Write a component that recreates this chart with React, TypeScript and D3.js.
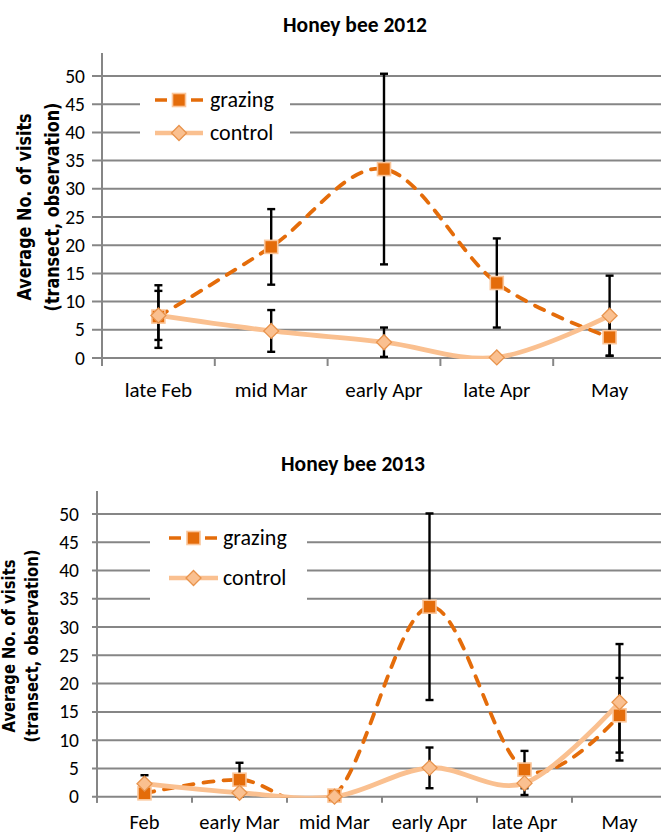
import React from 'react';
import * as d3 from 'd3';

// ---------- data ----------
const yTicks = [0, 5, 10, 15, 20, 25, 30, 35, 40, 45, 50];

const cats2012 = ['late Feb', 'mid Mar', 'early Apr', 'late Apr', 'May'];
const grazing2012 = [7.35, 19.7, 33.5, 13.3, 3.7];
const grazingErr2012 = [5.55, 6.7, 16.9, 7.9, 3.3];
const control2012 = [7.55, 4.8, 2.8, 0.1, 7.5];
const controlErr2012 = [4.35, 3.7, 2.6, 0, 7.1];

const cats2013 = ['Feb', 'early Mar', 'mid Mar', 'early Apr', 'late Apr', 'May'];
const grazing2013 = [0.6, 3.0, 0.2, 33.6, 4.8, 14.4];
const grazingErr2013 = [0, 3.0, 0, 16.5, 3.3, 6.6];
const control2013 = [2.3, 0.7, 0, 5.1, 2.4, 16.7];
const controlErr2013 = [1.5, 0, 0, 3.6, 2.1, 10.3];

const seriesNames = ['grazing', 'control'];
const yTitle = ['Average No. of visits', '(transect, observation)'];

// ---------- styles ----------
const FONT = "Carlito, Lato, 'Open Sans', sans-serif";
const YT_FONT = "'DejaVu Sans', Verdana, sans-serif";
const GRAZE = '#E46C0A';
const GRAZE_EDGE = '#FBC69A';
const CTRL = '#FAC090';
const CTRL_EDGE = '#E8934C';
const GRID = '#868686';

type Cfg = {
  id: string;
  title: string;
  cats: string[];
  g: number[]; ge: number[];
  c: number[]; ce: number[];
  x0: number; x1: number; yTop: number; y0: number; axisTop: number;
  titleX: number; titleY: number;
  labelRight: number; tickLeft: number; xTickLen: number; xLabelY: number; xLabelSize: number;
  ytCenter: number; yt1: number; yt2: number; ytSize: number; ytScale: number;
  legX: number; legY: number; legW: number; legH: number;
  legRow1: number; legRow2: number; legL0: number; legL1: number; legText: number;
};

function Square({ x, y }: { x: number; y: number }) {
  const s = 13;
  return <rect x={x - s / 2} y={y - s / 2} width={s} height={s} fill={GRAZE} stroke={GRAZE_EDGE} strokeWidth={1.6} />;
}
function Diamond({ x, y }: { x: number; y: number }) {
  const r = 7.5;
  return (
    <path d={`M${x},${y - r}L${x + r},${y}L${x},${y + r}L${x - r},${y}Z`} fill={CTRL} stroke={CTRL_EDGE} strokeWidth={1.3} />
  );
}

function Panel({ cfg }: { cfg: Cfg }) {
  const x = d3.scaleBand<string>().domain(cfg.cats).range([cfg.x0, cfg.x1]);
  const bw = x.bandwidth();
  const cx = (i: number) => (x(cfg.cats[i]) as number) + bw / 2;
  const y = d3.scaleLinear().domain([0, 50]).range([cfg.y0, cfg.yTop]);
  const line = d3
    .line<number>()
    .x((_, i) => cx(i))
    .y((d) => y(d))
    .curve(d3.curveCardinal.tension(0));
  const boundaries = cfg.cats.map((c) => x(c) as number).concat([cfg.x1]);

  const errBars = (vals: number[], errs: number[], key: string) =>
    vals.map((v, i) =>
      errs[i] > 0 ? (
        <g key={key + i} stroke="#000" strokeWidth={2.4}>
          <line x1={cx(i)} x2={cx(i)} y1={y(v + errs[i])} y2={y(Math.max(0, v - errs[i]))} />
          <line x1={cx(i) - 4} x2={cx(i) + 4} y1={y(v + errs[i])} y2={y(v + errs[i])} />
          <line x1={cx(i) - 4} x2={cx(i) + 4} y1={y(Math.max(0, v - errs[i]))} y2={y(Math.max(0, v - errs[i]))} />
        </g>
      ) : null
    );

  return (
    <g>
      <defs>
        <clipPath id={'clip' + cfg.id}>
          <rect x={cfg.x0} y={cfg.yTop - 30} width={cfg.x1 - cfg.x0} height={cfg.y0 - cfg.yTop + 31} />
        </clipPath>
      </defs>
      <text x={cfg.titleX} y={cfg.titleY} textAnchor="middle" fontFamily={FONT} fontWeight="bold" fontSize={21.5} fill="#000">
        {cfg.title}
      </text>
      {/* gridlines + y ticks */}
      {yTicks.map((t) => (
        <g key={t}>
          <line x1={cfg.tickLeft} x2={cfg.x1} y1={y(t)} y2={y(t)} stroke={GRID} strokeWidth={2} />
          <text x={cfg.labelRight} y={y(t) + 6.5} textAnchor="end" fontFamily={FONT} fontSize={19.5} fill="#000">
            {t}
          </text>
        </g>
      ))}
      {/* axes */}
      <line x1={cfg.x0} x2={cfg.x0} y1={cfg.axisTop} y2={cfg.y0 + cfg.xTickLen} stroke={GRID} strokeWidth={2} />
      {boundaries.map((b, i) => (
        <line key={i} x1={b} x2={b} y1={cfg.y0} y2={cfg.y0 + cfg.xTickLen} stroke={GRID} strokeWidth={2} />
      ))}
      {cfg.cats.map((c, i) => (
        <text key={c} x={cx(i)} y={cfg.xLabelY} textAnchor="middle" fontFamily={FONT} fontSize={cfg.xLabelSize} fill="#000">
          {c}
        </text>
      ))}
      {/* y title */}
      <g transform={`translate(${cfg.yt1},${cfg.ytCenter}) rotate(-90) scale(${cfg.ytScale},1)`}>
        <text textAnchor="middle" fontFamily={YT_FONT} fontWeight="bold" fontSize={cfg.ytSize} fill="#000">
          {yTitle[0]}
        </text>
      </g>
      <g transform={`translate(${cfg.yt2},${cfg.ytCenter}) rotate(-90) scale(${cfg.ytScale},1)`}>
        <text textAnchor="middle" fontFamily={YT_FONT} fontWeight="bold" fontSize={cfg.ytSize} fill="#000">
          {yTitle[1]}
        </text>
      </g>
      {/* legend */}
      <rect x={cfg.legX} y={cfg.legY} width={cfg.legW} height={cfg.legH} fill="#fff" />
      <line x1={cfg.legL0} x2={cfg.legL1} y1={cfg.legRow1} y2={cfg.legRow1} stroke={GRAZE} strokeWidth={3.5} strokeDasharray="12 6" />
      <Square x={(cfg.legL0 + cfg.legL1) / 2} y={cfg.legRow1} />
      <text x={cfg.legText} y={cfg.legRow1 + 6.5} fontFamily={FONT} fontSize={22} fill="#000">
        {seriesNames[0]}
      </text>
      <line x1={cfg.legL0} x2={cfg.legL1} y1={cfg.legRow2} y2={cfg.legRow2} stroke={CTRL} strokeWidth={4.5} />
      <Diamond x={(cfg.legL0 + cfg.legL1) / 2} y={cfg.legRow2} />
      <text x={cfg.legText} y={cfg.legRow2 + 6.5} fontFamily={FONT} fontSize={22} fill="#000">
        {seriesNames[1]}
      </text>
      {/* lines */}
      <g clipPath={`url(#clip${cfg.id})`}>
        <path d={line(cfg.g) || ''} fill="none" stroke={GRAZE} strokeWidth={3.8} strokeDasharray="10 10" strokeLinecap="round" />
        <path d={line(cfg.c) || ''} fill="none" stroke={CTRL} strokeWidth={4.8} strokeLinejoin="round" />
      </g>
      {errBars(cfg.g, cfg.ge, 'g')}
      {errBars(cfg.c, cfg.ce, 'c')}
      {cfg.g.map((v, i) => (
        <Square key={'s' + i} x={cx(i)} y={y(v)} />
      ))}
      {cfg.c.map((v, i) => (
        <Diamond key={'d' + i} x={cx(i)} y={y(v)} />
      ))}
    </g>
  );
}

const top: Cfg = {
  id: 'a', title: 'Honey bee 2012', cats: cats2012,
  g: grazing2012, ge: grazingErr2012, c: control2012, ce: controlErr2012,
  x0: 102, x1: 666, yTop: 76, y0: 358, axisTop: 53,
  titleX: 355, titleY: 31.5,
  labelRight: 85, tickLeft: 92, xTickLen: 8, xLabelY: 397, xLabelSize: 21,
  ytCenter: 207, yt1: 31, yt2: 59, ytSize: 19.5, ytScale: 0.82,
  legX: 140, legY: 84, legW: 150, legH: 66,
  legRow1: 100, legRow2: 133, legL0: 155, legL1: 203, legText: 210,
};

const bottom: Cfg = {
  id: 'b', title: 'Honey bee 2013', cats: cats2013,
  g: grazing2013, ge: grazingErr2013, c: control2013, ce: controlErr2013,
  x0: 97, x1: 667, yTop: 514, y0: 796.7, axisTop: 491,
  titleX: 353, titleY: 471,
  labelRight: 79, tickLeft: 92, xTickLen: 6, xLabelY: 828.5, xLabelSize: 20.5,
  ytCenter: 646, yt1: 15, yt2: 38, ytSize: 17, ytScale: 0.87,
  legX: 150, legY: 520, legW: 157, legH: 90,
  legRow1: 538, legRow2: 578, legL0: 169, legL1: 218, legText: 223,
};

export default function App() {
  return (
    <svg
      width={661}
      height={837}
      viewBox="0 0 661 837"
      style={{ position: 'absolute', left: 0, top: 0, background: '#fff' }}
    >
      <rect width={661} height={837} fill="#fff" />
      <Panel cfg={top} />
      <Panel cfg={bottom} />
    </svg>
  );
}
